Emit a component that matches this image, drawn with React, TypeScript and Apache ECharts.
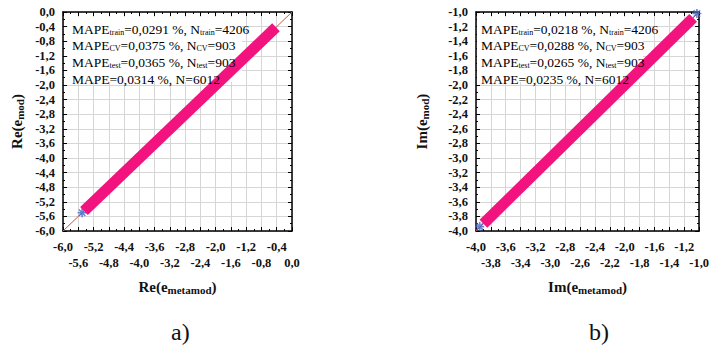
import React, { useEffect, useRef } from 'react';
import * as echarts from 'echarts';

// ---- data ----
const reRange = [-6, 0, 0.4];
const imRange = [-4, -1, 0.2];

// staggered x tick labels (two rows)
const reXRow1 = [-6.0, -5.2, -4.4, -3.6, -2.8, -2.0, -1.2, -0.4];
const reXRow2 = [-5.6, -4.8, -4.0, -3.2, -2.4, -1.6, -0.8, 0.0];
const imXRow1 = [-4.0, -3.6, -3.2, -2.8, -2.4, -2.0, -1.6, -1.2];
const imXRow2 = [-3.8, -3.4, -3.0, -2.6, -2.2, -1.8, -1.4, -1.0];

const reIdeal = [[-6, -6], [0, 0]];
const reBand = [[-5.45, -5.45], [-0.42, -0.42]];
const reBlue = [[-5.5, -5.5]];

const imIdeal = [[-4, -4], [-1, -1]];
const imBand = [[-3.9, -3.9], [-1.08, -1.08]];
const imBlue = [[-3.95, -3.94], [-1.03, -1.02]];

const statSubs = ['train', 'CV', 'test', ''];
const reMape = ['0,0291', '0,0375', '0,0365', '0,0314'];
const imMape = ['0,0218', '0,0288', '0,0265', '0,0235'];
const counts = ['4206', '903', '903', '6012'];

const SERIF = 'Liberation Serif';

const fmt = (v: number) => {
  const r = Math.round(v * 10) / 10;
  return (r === 0 ? 0 : r).toFixed(1).replace('.', ',');
};

function App() {
  const ref = useRef<HTMLDivElement>(null);

  useEffect(() => {
    if (!ref.current) return;
    const chart = echarts.init(ref.current, null, { renderer: 'svg' });

    const grids = [
      { left: 63, top: 12, width: 229, height: 219 },
      { left: 476, top: 12, width: 227, height: 219 },
    ];

    const ranges = [reRange, imRange];
    const rows = [
      [reXRow1, reXRow2],
      [imXRow1, imXRow2],
    ];
    const yNameGaps = [38, 46];

    const axisName = (base: string, sub: string) => `{b|${base}(e}{s|${sub}}{b|)}`;
    const nameRich = {
      b: { fontFamily: SERIF, fontWeight: 'bold', fontSize: 15, color: '#111' },
      s: { fontFamily: SERIF, fontWeight: 'bold', fontSize: 11, color: '#111', padding: [6, 0, 0, 0] },
    };

    const labelStyle = {
      fontFamily: SERIF,
      fontWeight: 'bold',
      fontSize: 12.5,
      color: '#111',
    };

    const common = (gi: number) => {
      const [min, max, interval] = ranges[gi];
      return {
        type: 'value',
        gridIndex: gi,
        min,
        max,
        interval,
        axisLine: { show: true, onZero: false, lineStyle: { color: '#000', width: 1.5 } },
        axisTick: { show: true, inside: true, length: 4, lineStyle: { color: '#000', width: 1 } },
        minorTick: { show: true, splitNumber: 2, length: 2, lineStyle: { color: '#000' } },
      };
    };

    const xAxes: any[] = [];
    const yAxes: any[] = [];
    const names = ['Re', 'Im'];
    [0, 1].forEach((gi) => {
      const [min, max] = ranges[gi];
      xAxes.push({
        ...common(gi),
        position: 'bottom',
        splitLine: { show: true, lineStyle: { color: '#d6d6d6', width: 1 } },
        axisLabel: {
          ...labelStyle,
          margin: 9,
          customValues: rows[gi][0],
          formatter: (v: number) => fmt(v),
        },
        name: axisName(names[gi], 'metamod'),
        nameLocation: 'middle',
        nameGap: 47,
        nameTextStyle: { rich: nameRich },
      });
      xAxes.push({
        type: 'value',
        gridIndex: gi,
        min,
        max,
        position: 'bottom',
        axisLine: { show: false, onZero: false },
        axisTick: { show: false },
        splitLine: { show: false },
        axisLabel: {
          ...labelStyle,
          margin: 25,
          customValues: rows[gi][1],
          formatter: (v: number) => fmt(v),
        },
      });
      xAxes.push({
        ...common(gi),
        position: 'top',
        splitLine: { show: false },
        axisLabel: { show: false },
      });
      yAxes.push({
        ...common(gi),
        position: 'left',
        splitLine: { show: true, lineStyle: { color: '#d6d6d6', width: 1 } },
        axisLabel: {
          ...labelStyle,
          margin: 8,
          showMinLabel: true,
          showMaxLabel: true,
          formatter: (v: number) => fmt(v),
        },
        name: axisName(names[gi], 'mod'),
        nameLocation: 'middle',
        nameRotate: 90,
        nameGap: yNameGaps[gi],
        nameTextStyle: { rich: nameRich },
      });
      yAxes.push({
        ...common(gi),
        position: 'right',
        splitLine: { show: false },
        axisLabel: { show: false },
      });
    });

    const blueSymbol = 'path://M0,-5L0,5M-5,0L5,0M-3.6,-3.6L3.6,3.6M-3.6,3.6L3.6,-3.6';

    const makeSeries = (gi: number, ideal: number[][], band: number[][], blue: number[][]) => [
      {
        type: 'line',
        xAxisIndex: gi * 3,
        yAxisIndex: gi * 2,
        data: ideal,
        symbol: 'none',
        lineStyle: { color: '#c8544c', width: 1 },
        z: 2,
      },
      {
        type: 'scatter',
        xAxisIndex: gi * 3,
        yAxisIndex: gi * 2,
        data: blue,
        symbol: blueSymbol,
        symbolSize: 9,
        itemStyle: { color: 'none', borderColor: '#4169c8', borderWidth: 1.6 },
        z: 3,
      },
      {
        type: 'line',
        xAxisIndex: gi * 3,
        yAxisIndex: gi * 2,
        data: band,
        symbol: 'none',
        lineStyle: { color: '#f2137e', width: 11, cap: 'butt' },
        z: 4,
      },
    ];

    const statText = (mape: string[]) =>
      statSubs.map((s, i) =>
        s
          ? `{a|MAPE}{s|${s}}{a|=${mape[i]} %, N}{s|${s}}{a|=${counts[i]}}`
          : `{a|MAPE=${mape[i]} %, N=${counts[i]}}`
      );

    const textRich = {
      a: { fontFamily: SERIF, fontSize: 13.5, color: '#222' },
      s: { fontFamily: SERIF, fontSize: 8, color: '#777', padding: [6, 0, 0, 0] },
    };

    const statBlock = (x: number, boxW: number, mape: string[]) => [
      {
        type: 'rect',
        left: x - 4,
        top: 17,
        shape: { width: boxW, height: 65 },
        style: { fill: '#fff' },
        z: 1,
      },
      ...statText(mape).map((t, i) => ({
        type: 'text',
        left: x,
        top: 22 + i * 16.7,
        style: { text: t, rich: textRich },
        z: 11,
      })),
    ];

    chart.setOption({
      animation: false,
      backgroundColor: '#fff',
      grid: grids.map((g) => ({ ...g, show: false })),
      xAxis: xAxes,
      yAxis: yAxes,
      series: [
        ...makeSeries(0, reIdeal, reBand, reBlue),
        ...makeSeries(1, imIdeal, imBand, imBlue),
      ],
      graphic: [
        ...statBlock(72, 174, reMape),
        ...statBlock(481, 166, imMape),
        {
          type: 'text',
          left: 171,
          top: 320,
          style: { text: 'a)', fontFamily: SERIF, fontSize: 24, fill: '#111' },
        },
        {
          type: 'text',
          left: 589,
          top: 320,
          style: { text: 'b)', fontFamily: SERIF, fontSize: 24, fill: '#111' },
        },
      ],
    });

    return () => chart.dispose();
  }, []);

  return (
    <div
      ref={ref}
      style={{ position: 'fixed', left: 0, top: 0, width: 712, height: 348 }}
    />
  );
}

export default App;
